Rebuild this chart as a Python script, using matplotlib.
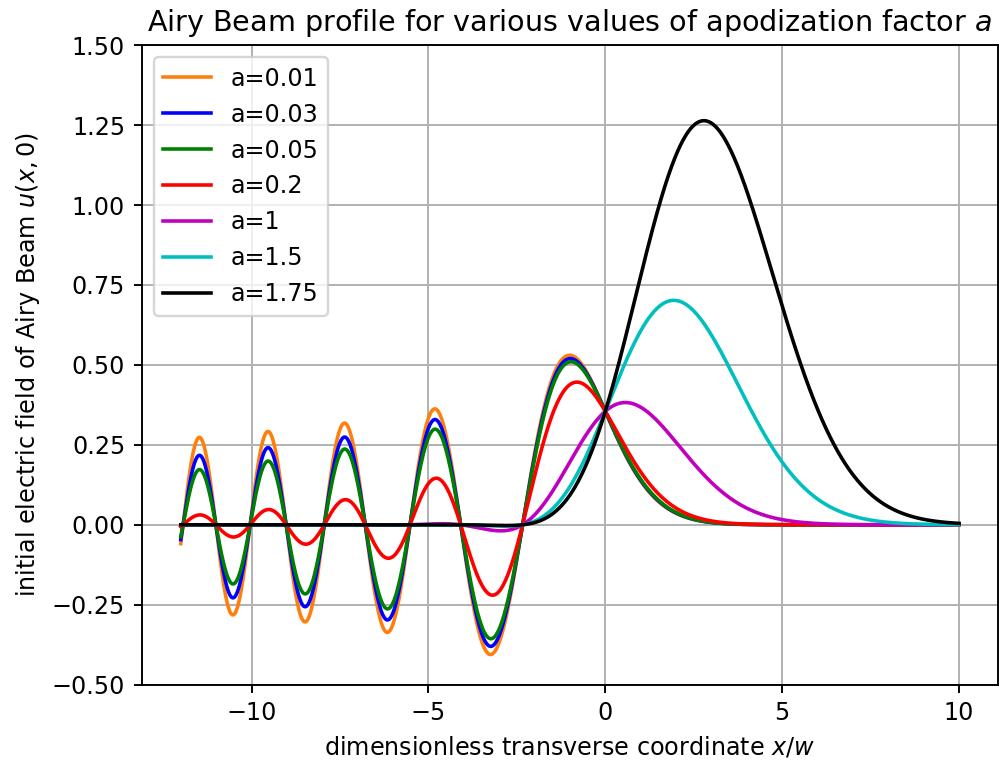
import numpy as np
import matplotlib
matplotlib.use("Agg")
import matplotlib.pyplot as plt

# apodization factors and their line colours
a_values = [0.01, 0.03, 0.05, 0.2, 1, 1.5, 1.75]
labels = ["a=0.01", "a=0.03", "a=0.05", "a=0.2", "a=1", "a=1.5", "a=1.75"]
colors = ["#ff7f0e", "b", "g", "r", "m", "c", "k"]

# transverse coordinate range
x_start, x_end = -12, 10


def airy_ai(x):
    # Airy function Ai: power series near/below zero, K_{1/3} integral above
    x = np.asarray(x, dtype=float)
    out = np.empty_like(x)

    small = x <= 1.0
    xs = x[small]
    c1 = 0.355028053887817
    c2 = 0.258819403792807
    x3 = xs ** 3
    t = np.ones_like(xs)
    s = xs.copy()
    f = t.copy()
    g = s.copy()
    for k in range(90):
        t = t * x3 / ((3 * k + 2) * (3 * k + 3))
        s = s * x3 / ((3 * k + 3) * (3 * k + 4))
        f += t
        g += s
    out[small] = c1 * f - c2 * g

    big = ~small
    xb = x[big]
    zeta = 2.0 / 3.0 * xb ** 1.5
    tt = np.linspace(0, 10, 4001)
    integrand = np.exp(-zeta[:, None] * np.cosh(tt)[None, :]) * np.cosh(tt / 3.0)[None, :]
    K = np.trapezoid(integrand, tt, axis=1)
    out[big] = np.sqrt(xb / 3.0) / np.pi * K
    return out


x = np.linspace(x_start, x_end, 1200)
ai = airy_ai(x)

dpi = 172
fig = plt.figure(figsize=(999 / dpi, 765 / dpi), dpi=dpi)
ax = fig.add_axes([0.142, 0.105, 0.857, 0.836])

for a, lab, col in zip(a_values, labels, colors):
    ax.plot(x, ai * np.exp(a * x), color=col, label=lab)

ax.set_ylim(-0.5, 1.5)
ax.set_yticks(np.arange(-0.5, 1.51, 0.25))
ax.set_title("Airy Beam profile for various values of apodization factor $a$")
ax.set_xlabel("dimensionless transverse coordinate $x/w$")
ax.set_ylabel("initial electric field of Airy Beam $u(x,0)$")
ax.legend(loc="upper left")
ax.grid(True)

fig.savefig("out.png", dpi=dpi)
